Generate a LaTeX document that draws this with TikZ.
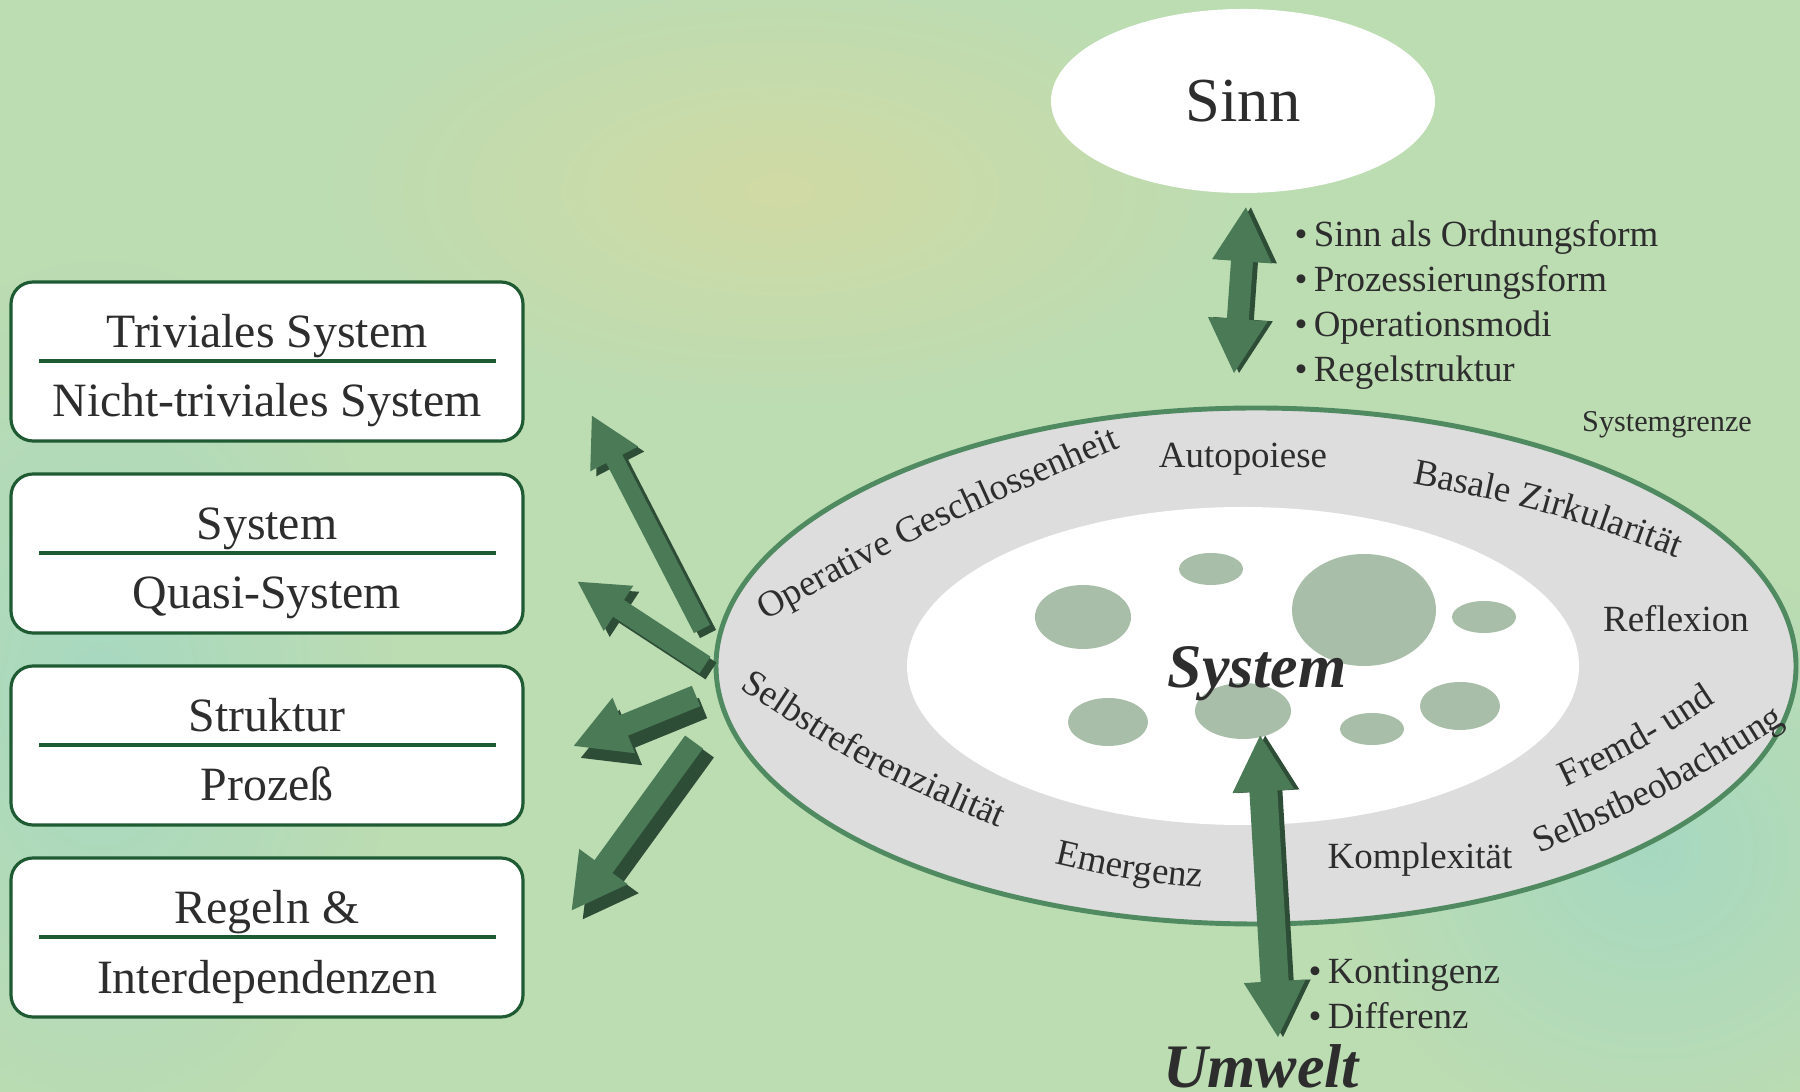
\documentclass[tikz,border=0pt]{standalone}
\usepackage{fontspec}
\setmainfont{Liberation Serif}
\usetikzlibrary{decorations.text}

\definecolor{bggreen}{RGB}{188,220,178}
\definecolor{bgyellow}{RGB}{208,218,164}
\definecolor{bgblue}{RGB}{166,216,192}
\definecolor{ringgray}{RGB}{221,221,221}
\definecolor{rimgreen}{RGB}{80,138,96}
\definecolor{blobgreen}{RGB}{168,190,168}
\definecolor{arrowlight}{RGB}{74,122,86}
\definecolor{arrowdark}{RGB}{46,77,54}
\definecolor{boxgreen}{RGB}{30,90,50}
\definecolor{textgray}{RGB}{45,45,45}

\newcommand{\ringfont}{\fontsize{10.5}{12}\selectfont\color{textgray}}

\tikzset{
  boxline/.style={draw=boxgreen,line width=0.9pt},
  boxtext/.style={text=textgray,font=\fontsize{13.6}{16}\selectfont,inner sep=0pt},
  ringtext/.style={text=textgray,font=\ringfont,inner sep=0pt},
  listtext/.style={text=textgray,font=\fontsize{10.5}{12}\selectfont,inner sep=0pt},
  bigtext/.style={text=textgray,font=\fontsize{17.6}{20}\selectfont\bfseries\itshape,inner sep=0pt},
  ringpath/.style={decorate,decoration={text along path,text align=center,text={|\ringfont|#1}}}
}

\newcommand{\greenarrow}[8]{%
  \pgfmathsetmacro{\headstart}{#4-1.8*#6}
  \foreach \col/\dx/\dy in {arrowdark/#7/#8,arrowlight/0/0}
    \fill[fill=\col,shift={(#1+\dx,#2+\dy)},rotate=#3]
      (0,-#5) -- (\headstart,-#5) -- (\headstart,-#6) -- (#4,0)
      -- (\headstart,#6) -- (\headstart,#5) -- (0,#5) -- cycle;
}
\newcommand{\greendoublearrow}[6]{%
  \pgfmathsetmacro{\heada}{1.8*#6}
  \pgfmathsetmacro{\headb}{#4-1.8*#6}
  \foreach \col/\off in {arrowdark/5,arrowlight/0}
    \fill[fill=\col,shift={(#1+\off,#2)},rotate=#3]
      (0,0) -- (\heada,#6) -- (\heada,#5) -- (\headb,#5) -- (\headb,#6) -- (#4,0)
      -- (\headb,-#6) -- (\headb,-#5) -- (\heada,-#5) -- (\heada,-#6) -- cycle;
}

\begin{document}
\begin{tikzpicture}[line join=round,x=0.01cm,y=-0.01cm]
	\useasboundingbox (0,0) rectangle (1800,1092);
	\clip (0,0) rectangle (1800,1092);
	\fill[bggreen] (0,0) rectangle (1800,1092);
	\shade[inner color=bgyellow,outer color=bggreen] (780,190) ellipse [x radius=460, y radius=220];
	\shade[inner color=bgblue,outer color=bggreen] (100,700) ellipse [x radius=300, y radius=450];
	\shade[inner color=bgblue,outer color=bggreen] (1650,850) ellipse [x radius=320, y radius=300];

	\foreach \ytop/\upper/\lower [count=\i] in {282/{Triviales System}/{Nicht-triviales System},474/System/Quasi-System,666/Struktur/Prozeß,858/{Regeln \&}/Interdependenzen}
	{
		\draw[boxline,fill=white,rounded corners=0.22cm] (11,\ytop) rectangle (523,\ytop+159);
		\draw[boxline] (39,\ytop+79) -- (496,\ytop+79);
		\node[boxtext,anchor=base] (upper\i) at (267,\ytop+66) {\upper};
		\node[boxtext,anchor=base] (lower\i) at (267,\ytop+135) {\lower};
	}

	\fill[white] (1243,101) ellipse [x radius=192, y radius=92];
	\node[text=textgray,font=\fontsize{17.8}{20}\selectfont,inner sep=0pt] (sinn) at (1243,101) {Sinn};

	\filldraw[fill=ringgray,draw=rimgreen,line width=1.4pt] (1256,666) ellipse [x radius=540, y radius=258];
	\fill[white] (1243,666) ellipse [x radius=336, y radius=159];
	\foreach \x/\y/\rx/\ry in {1083/617/48/32,1211/569/32/16,1364/610/72/56,1484/617/32/16,1108/722/40/24,1243/711/48/28,1372/729/32/16,1460/706/40/24}
	\fill[blobgreen] (\x,\y) ellipse [x radius=\rx, y radius=\ry];

	\node[ringtext] (autopoiese) at (1243,459) {Autopoiese};
	\node[ringtext] (reflexion) at (1676,619) {Reflexion};
	\node[ringtext] (komplex) at (1420,860) {Komplexität};
	\node[text=textgray,font=\fontsize{8.6}{10}\selectfont,inner sep=0pt] (grenze) at (1667,425) {Systemgrenze};
	\path[ringpath={Operative Geschlossenheit}] (738,635) .. controls (938,526) .. (1149,435);
	\path[ringpath={Selbstreferenzialität}] (712,670) .. controls (862,770) .. (1030,841);
	\path[ringpath={Basale Zirkularität}] (1383,478) .. controls (1548,510) .. (1705,568);
	\path[ringpath={Fremd- und}] (1539,800) .. controls (1644,750) .. (1741,686);
	\path[ringpath={Selbstbeobachtung}] (1513,865) .. controls (1668,797) .. (1810,708);
	\path[ringpath={Emergenz}] (1032,858) .. controls (1126,880) .. (1225,890);

	\node[bigtext,anchor=base] (system) at (1257,688) {System};
	\node[bigtext,anchor=base] (umwelt) at (1261,1087) {Umwelt};

	\foreach \txt [count=\i] in {Sinn als Ordnungsform,Prozessierungsform,Operationsmodi,Regelstruktur}
	\node[listtext,anchor=base west] (sinnlist\i) at (1294,202+45*\i) {\textbullet\,\txt};
	\foreach \txt [count=\i] in {Kontingenz,Differenz}
	\node[listtext,anchor=base west] (umweltlist\i) at (1308,938+45*\i) {\textbullet\,\txt};

	\greendoublearrow{1234}{373}{85.9}{166}{11}{30}
	\greendoublearrow{1278}{1037}{93.4}{302}{14}{31}
	\greenarrow{702}{629}{117.3}{240}{9}{27}{6}{5}
	\greenarrow{705}{665}{146.8}{152}{10}{27}{6}{6}
	\greenarrow{696}{696}{202.2}{132}{11}{30}{7}{12}
	\greenarrow{694}{742}{234}{208}{11}{30}{11}{9}
\end{tikzpicture}
\end{document}
